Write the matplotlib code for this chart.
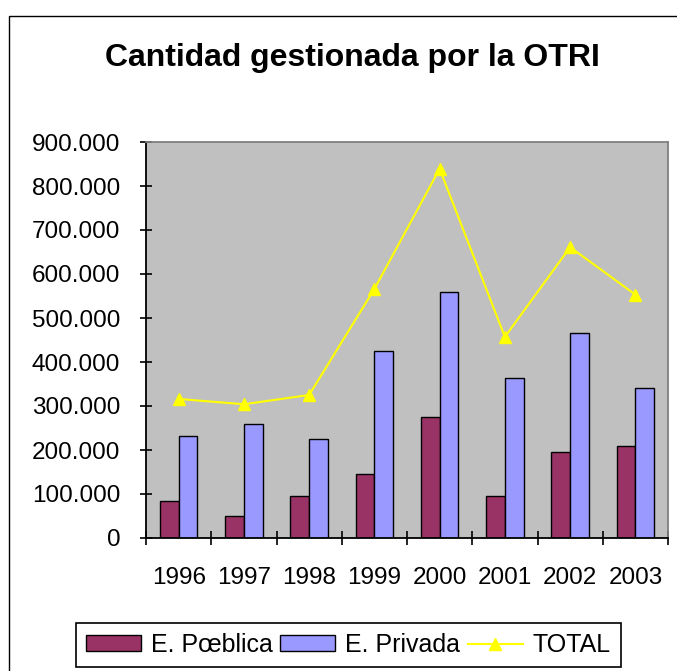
import matplotlib.pyplot as plt
from matplotlib.patches import Rectangle
from matplotlib.ticker import FuncFormatter, FixedLocator
import numpy as np

plt.rcParams['font.family'] = ['Liberation Sans', 'DejaVu Sans']

years = ['1996', '1997', '1998', '1999', '2000', '2001', '2002', '2003']
publica = [85000, 49000, 94500, 144500, 276000, 94500, 194500, 208000]
privada = [231000, 258000, 226000, 426000, 558000, 363000, 467000, 340000]
total = [316000, 304000, 325000, 566000, 839000, 457000, 661000, 553000]

W, H = 677, 671
fig = plt.figure(figsize=(W / 100, H / 100), dpi=100)

# outer chart frame (runs off the right/bottom edge)
fig.patches.append(Rectangle((9 / W, -0.1), 1.2, 1 - 16 / H + 0.1,
                             transform=fig.transFigure, fill=False,
                             ec='black', lw=1))

ax = fig.add_axes([146 / W, 1 - 538 / H, (668 - 146) / W, (538 - 142) / H])
ax.set_facecolor('#c0c0c0')

x = np.arange(len(years))
bw = 0.286
b1 = ax.bar(x - bw / 2, publica, bw, color='#993366', edgecolor='black',
            lw=1, label='E. Pœblica', zorder=2)
b2 = ax.bar(x + bw / 2, privada, bw, color='#9999FF', edgecolor='black',
            lw=1, label='E. Privada', zorder=2)
ln, = ax.plot(x, total, color='#FFFF00', lw=1.5, marker='^', markersize=9,
              markeredgecolor='#FFFF00', label='TOTAL', zorder=3)

ax.set_xlim(-0.5, len(years) - 0.5)
ax.set_ylim(0, 900000)
ax.set_yticks(range(0, 900001, 100000))
ax.yaxis.set_major_formatter(FuncFormatter(
    lambda v, p: '0' if v == 0 else f'{int(v):,}'.replace(',', '.')))

ax.set_xticks(x)
ax.set_xticklabels(years)
ax.xaxis.set_minor_locator(FixedLocator(np.arange(-0.5, len(years), 1)))
ax.tick_params(axis='x', which='major', length=0, pad=21, labelsize=17.5)
ax.tick_params(axis='x', which='minor', direction='inout', length=10,
               width=1.2)
ax.tick_params(axis='y', direction='inout', length=9, width=1.2, pad=14,
               labelsize=17.5)

for s in ['left', 'bottom']:
    ax.spines[s].set_color('black')
    ax.spines[s].set_linewidth(1.3)
for s in ['top', 'right']:
    ax.spines[s].set_color('#808080')
    ax.spines[s].set_linewidth(1.3)

fig.text(352 / W, 1 - 58 / H, 'Cantidad gestionada por la OTRI',
         ha='center', va='center', fontsize=23, fontweight='bold')

leg = fig.legend([b1, b2, ln], ['E. Pœblica', 'E. Privada', 'TOTAL'],
                 loc='upper left', bbox_to_anchor=(76 / W, 1 - 623 / H),
                 ncol=3, fontsize=18, frameon=True, fancybox=False,
                 edgecolor='black', framealpha=1, borderaxespad=0,
                 handlelength=2.2, handleheight=0.6, handletextpad=0.4,
                 columnspacing=0.3, borderpad=0.4)
leg.get_frame().set_linewidth(1.2)

fig.savefig('out.png', dpi=100)
